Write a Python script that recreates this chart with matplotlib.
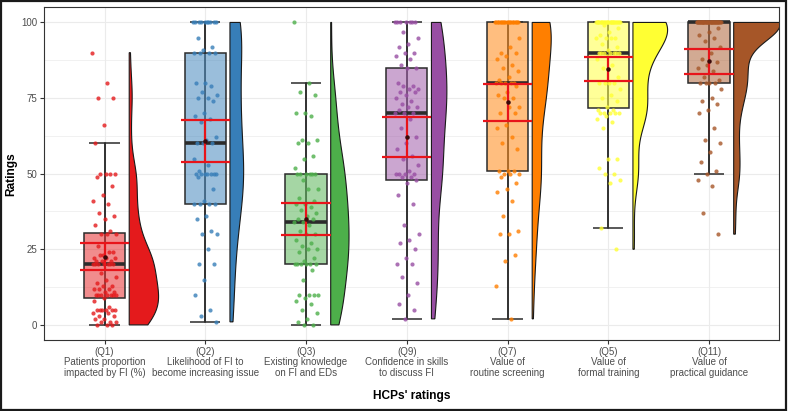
import numpy as np
import matplotlib.pyplot as plt
from matplotlib import cbook
from matplotlib.colors import to_rgba
from matplotlib.patches import Polygon, Rectangle

plt.rcParams['font.family'] = ['Liberation Sans', 'DejaVu Sans']

# question labels (x axis)
labels = [
    "(Q1)\nPatients proportion\nimpacted by FI (%)",
    "(Q2)\nLikelihood of FI to\nbecome increasing issue",
    "(Q3)\nExisting knowledge\non FI and EDs",
    "(Q9)\nConfidence in skills\nto discuss FI",
    "(Q7)\nValue of\nroutine screening",
    "(Q5)\nValue of\nformal training",
    "(Q11)\nValue of\npractical guidance",
]
colors = ["#E41A1C", "#377EB8", "#4DAF4A", "#984EA3", "#FF7F00", "#FFFF33", "#A65628"]

# ratings, one list per question
q1 = [90, 80, 75, 75, 66, 60, 50, 50, 50, 50, 49, 46, 43, 41, 40, 37, 36, 35, 33, 31,
      30, 30, 30, 26, 24, 23, 22, 24, 23, 22, 22, 21, 21, 21, 20, 20, 20, 20, 20, 20,
      20, 17, 16, 15, 14, 13, 13, 12, 12, 12, 11, 11, 10, 10, 10, 10, 10, 10, 10, 9,
      8, 6, 5, 5, 5, 5, 5, 5, 4, 4, 3, 3, 2, 2, 1, 1, 1, 0, 0, 0]
q2 = [100, 100, 100, 100, 100, 100, 100, 100, 100, 100, 95, 92, 91, 90, 90, 90,
      90, 80, 80, 79, 77, 76, 75, 75, 74, 70, 69, 68, 67, 62, 61, 60,
      60, 60, 55, 53, 51, 50, 50, 50, 50, 50, 50, 50, 49, 45, 41, 40,
      40, 40, 40, 36, 35, 31, 30, 30, 25, 20, 20, 15, 10, 5, 3, 1]
q3 = [100, 80, 77, 76, 70, 70, 69, 61, 61, 60, 60, 56, 55, 52, 50, 50, 50,
      50, 50, 50, 48, 45, 45, 42, 41, 40, 40, 39, 38, 37, 36, 35, 35, 34,
      34, 33, 31, 30, 30, 28, 27, 26, 25, 25, 24, 22, 21, 20, 20, 20, 20,
      20, 20, 18, 15, 10, 10, 10, 10, 9, 8, 7, 5, 4, 2, 1, 0, 0]
q9 = [100, 100, 100, 100, 100, 100, 100, 97, 95, 93, 92, 90, 90, 89, 88, 86, 85,
      85, 80, 79, 79, 78, 78, 77, 77, 76, 75, 74, 73, 72, 72, 71, 70, 70,
      70, 68, 65, 62, 60, 58, 56, 55, 53, 51, 50, 50, 50, 50, 49, 49, 48,
      47, 43, 40, 33, 30, 28, 27, 25, 22, 20, 20, 16, 14, 10, 7, 5, 2]
q7 = [100] * 21 + [95, 92, 90, 90, 89, 88, 86, 85, 84, 82, 81, 80, 80, 80, 80,
      80, 79, 77, 76, 75, 75, 72, 72, 70, 70, 66, 65, 62, 60, 58, 51, 51,
      51, 50, 50, 50, 49, 47, 45, 44, 41, 36, 31, 30, 30, 23, 21, 13, 2]
q5 = [100] * 22 + [100, 100, 100, 100, 100, 100, 99, 98, 97, 96, 95, 95, 95, 95,
      93, 92, 91, 90, 90, 90, 90, 90, 90, 90, 89, 88, 86, 85, 82, 80, 80, 80, 80,
      78, 76, 75, 74, 72, 71, 71, 70, 70, 70, 70, 70, 69, 68, 67, 65, 55, 55, 52,
      50, 50, 48, 47, 32, 25]
q11 = [100] * 37 + [98, 97, 96, 95, 94, 92, 90, 88, 87, 86, 85, 84, 82, 81, 80, 80, 80,
      80, 78, 75, 74, 73, 71, 70, 65, 61, 60, 57, 54, 51, 50, 48, 46, 37, 30]

groups = [q1, q2, q3, q9, q7, q5, q11]


def kde_nrd0(vals, grid):
    # gaussian kernel density, R's default bandwidth
    v = np.asarray(vals, float)
    n = len(v)
    iqr = np.subtract(*np.percentile(v, [75, 25]))
    bw = 0.9 * min(v.std(ddof=1), iqr / 1.34) * n ** -0.2
    z = (grid[:, None] - v[None, :]) / bw
    return np.exp(-0.5 * z ** 2).sum(axis=1) / (n * bw * np.sqrt(2 * np.pi))


fig = plt.figure(figsize=(7.88, 4.11), dpi=100)
ax = fig.add_axes([0.0562, 0.1727, 0.9324, 0.8095])

# violin densities first so they share one scale (equal area)
dens = []
for vals in groups:
    grid = np.linspace(min(vals), max(vals), 400)
    dens.append((grid, kde_nrd0(vals, grid)))
vscale = 0.46 / max(d.max() for _, d in dens)

for i, (vals, col) in enumerate(zip(groups, colors)):
    x = i + 1
    v = np.asarray(vals, float)
    st = cbook.boxplot_stats(v, whis=1.5)[0]

    # half violin
    grid, d = dens[i]
    x0 = x + 0.245
    poly = np.column_stack([np.r_[x0 + d * vscale, x0, x0],
                            np.r_[grid, grid[-1], grid[0]]])
    ax.add_patch(Polygon(poly, closed=True, facecolor=col, edgecolor='#1a1a1a',
                         lw=0.8, zorder=2))

    # errorbar style whiskers
    ax.vlines(x, st['whislo'], st['whishi'], color='#2b2b2b', lw=1.1, zorder=2)
    ax.hlines([st['whislo'], st['whishi']], x - 0.15, x + 0.15, color='#2b2b2b', lw=1.1, zorder=2)

    # box
    ax.bxp([st], positions=[x], widths=0.41, patch_artist=True, showfliers=False,
           showcaps=False,
           boxprops=dict(facecolor=to_rgba(col, 0.5), edgecolor='#2b2b2b', lw=1.1),
           whiskerprops=dict(color='#2b2b2b', lw=1.1),
           medianprops=dict(color='#2b2b2b', lw=2.6), zorder=3)

    # jittered points
    jit = ((np.arange(len(v)) * 0.618034) % 1 - 0.5) * 0.24
    ax.scatter(x + jit, v, s=9, color=col, alpha=0.8, linewidths=0, zorder=4)

    # mean and 95% CI
    m = v.mean()
    h = 1.96 * v.std(ddof=1) / np.sqrt(len(v))
    ax.hlines([m - h, m + h], x - 0.245, x + 0.245, color='#E8141A', lw=1.6, zorder=5)
    ax.vlines(x, m - h, m + h, color='#E8141A', lw=1.6, zorder=5)
    ax.scatter([x], [m], s=5, color='#3a0a0a', zorder=6)

ax.set_xlim(0.402, 7.695)
ax.set_ylim(-5, 105)
ax.set_xticks(range(1, 8))
ax.set_xticklabels(labels, fontsize=7, color='#4d4d4d', linespacing=1.05)
ax.set_yticks([0, 25, 50, 75, 100])
ax.set_yticks([12.5, 37.5, 62.5, 87.5], minor=True)
ax.tick_params(axis='both', which='major', length=3, width=0.8, color='#333333',
               labelsize=7, labelcolor='#4d4d4d', pad=2)
ax.tick_params(axis='both', which='minor', length=0)
ax.grid(True, which='major', color='#ebebeb', lw=0.8)
ax.grid(True, which='minor', axis='y', color='#ebebeb', lw=0.5)
ax.set_axisbelow(True)
for sp in ax.spines.values():
    sp.set_color('#333333')
    sp.set_linewidth(0.8)

ax.set_ylabel("Ratings", fontsize=8.6, fontweight='bold', labelpad=3)
ax.set_xlabel("HCPs' ratings", fontsize=8.6, fontweight='bold', labelpad=9)

fig.patches.append(Rectangle((0.001, 0.002), 0.997, 0.996, transform=fig.transFigure,
                             fill=False, edgecolor='#1a1a1a', lw=1.6))

fig.savefig('out.png', dpi=100)
